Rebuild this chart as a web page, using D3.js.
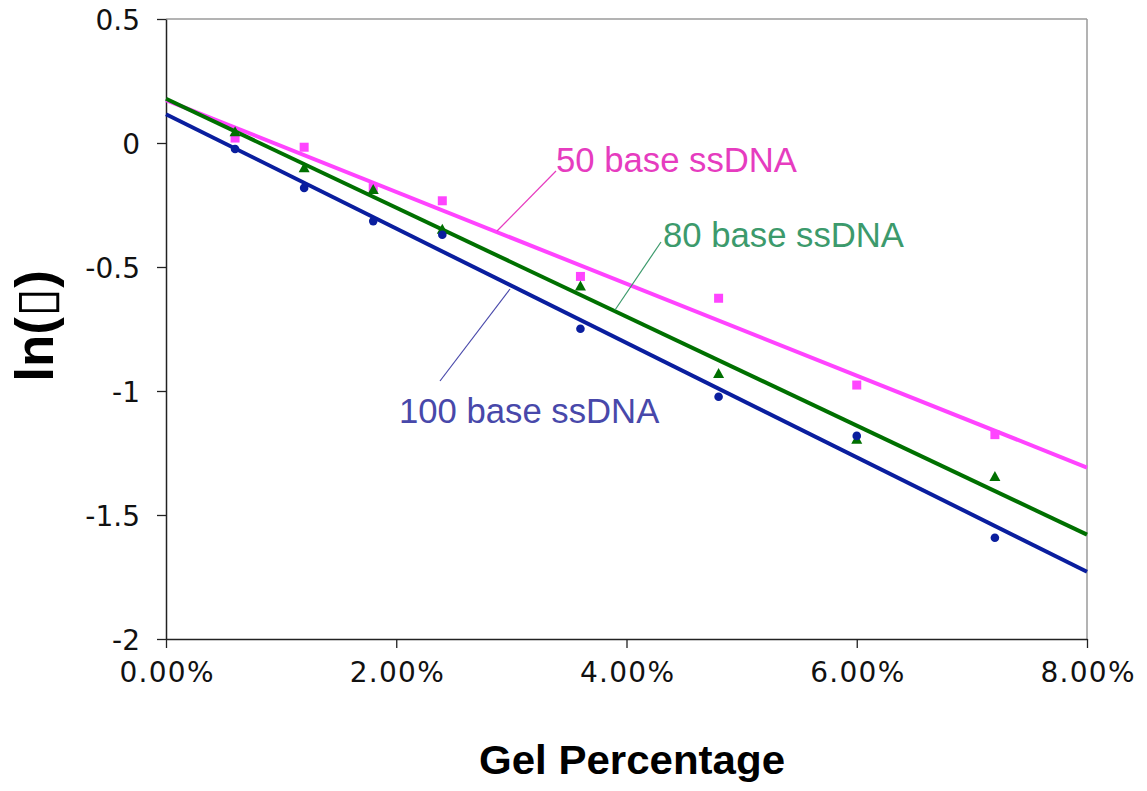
<!DOCTYPE html>
<html>
<head>
<meta charset="utf-8">
<script src="https://cdn.jsdelivr.net/npm/d3@7"></script>
<style>
  html, body { margin: 0; padding: 0; background: #fff; }
  svg { display: block; }
</style>
</head>
<body>
<svg id="chart" width="1147" height="791"></svg>
<script>
// ---- data ----
const gelPct = [0.006, 0.012, 0.018, 0.024, 0.036, 0.048, 0.060, 0.072];
const base50 = [0.02, -0.017, -0.18, -0.233, -0.538, -0.626, -0.976, -1.176];
const base80 = [0.045, -0.10, -0.187, -0.348, -0.577, -0.929, -1.195, -1.345];
const base100 = [-0.024, -0.181, -0.315, -0.37, -0.749, -1.023, -1.181, -1.592];
const xTicks = [0, 0.02, 0.04, 0.06, 0.08];
const yTicks = [0.5, 0, -0.5, -1, -1.5, -2];
const seriesNames = ["50 base ssDNA", "80 base ssDNA", "100 base ssDNA"];
const xTitle = "Gel Percentage";
const yTitle = "ln(\u25AF)";

// ---- layout ----
const svg = d3.select("#chart");
const L = 166, R = 1087, T = 19, B = 639;
const x = d3.scaleLinear().domain([0, 0.08]).range([L, R]);
const y = d3.scaleLinear().domain([-2, 0.5]).range([B, T]);

const series = [
  { name: seriesNames[0], vals: base50, color: "#ff44ff", text: "#e63cbf", shape: "square",
    label: { x: 556, y: 172 }, leader: [[556, 171], [497, 231]] },
  { name: seriesNames[1], vals: base80, color: "#007000", text: "#3c9a6c", shape: "triangle",
    label: { x: 663, y: 247 }, leader: [[661, 242], [615, 310]] },
  { name: seriesNames[2], vals: base100, color: "#0a1e9e", text: "#4848aa", shape: "circle",
    label: { x: 399, y: 423 }, leader: [[440, 381], [510, 289]] }
];

function fit(xs, ys) {
  const mx = d3.mean(xs), my = d3.mean(ys);
  let sxy = 0, sxx = 0;
  xs.forEach((v, i) => { sxy += (v - mx) * (ys[i] - my); sxx += (v - mx) * (v - mx); });
  const slope = sxy / sxx;
  return { slope, intercept: my - slope * mx };
}

// plot frame: top/right grey
svg.append("line").attr("x1", L).attr("x2", R).attr("y1", T).attr("y2", T)
  .attr("stroke", "#9a9a9a").attr("stroke-width", 1.5);
svg.append("line").attr("x1", R).attr("x2", R).attr("y1", T).attr("y2", B)
  .attr("stroke", "#9a9a9a").attr("stroke-width", 1.5);

// axes
const xAxis = d3.axisBottom(x).tickValues(xTicks).tickFormat(d3.format(".2%")).tickSizeInner(9).tickSizeOuter(0).tickPadding(14);
const yAxis = d3.axisLeft(y).tickValues(yTicks).tickFormat(d => d3.format("")(d).replace("\u2212", "-")).tickSizeInner(9).tickSizeOuter(0).tickPadding(17);

const gx = svg.append("g").attr("transform", `translate(0,${B})`).call(xAxis);
const gy = svg.append("g").attr("transform", `translate(${L},0)`).call(yAxis);
[gx, gy].forEach(g => {
  g.select(".domain").attr("stroke", "#222").attr("stroke-width", 1.5);
  g.selectAll(".tick line").attr("stroke", "#222").attr("stroke-width", 1.3);
  g.selectAll(".tick text").attr("fill", "#111")
    .style("font-family", "'DejaVu Sans', Verdana, sans-serif").style("font-size", "28px");
});
gx.selectAll(".tick text").attr("dy", "0.71em")
  .attr("textLength", 94).attr("lengthAdjust", "spacing");
gy.selectAll(".tick text").attr("dy", "0.36em");

// trend lines
series.forEach(s => {
  const f = fit(gelPct, s.vals);
  const dom = x.domain();
  svg.append("line")
    .attr("x1", x(dom[0])).attr("y1", y(f.intercept + f.slope * dom[0]))
    .attr("x2", x(dom[1])).attr("y2", y(f.intercept + f.slope * dom[1]))
    .attr("stroke", s.color).attr("stroke-width", 4);
});

// markers
series.forEach(s => {
  const g = svg.append("g").attr("fill", s.color);
  gelPct.forEach((gp, i) => {
    const cx = x(gp), cy = y(s.vals[i]);
    if (s.shape === "square") {
      g.append("rect").attr("x", cx - 4.5).attr("y", cy - 4.5).attr("width", 9).attr("height", 9);
    } else if (s.shape === "triangle") {
      g.append("path").attr("d", `M${cx},${cy - 5.5}L${cx + 5.5},${cy + 4.5}L${cx - 5.5},${cy + 4.5}Z`);
    } else {
      g.append("circle").attr("cx", cx).attr("cy", cy).attr("r", 4.3);
    }
  });
});

// labels with leader lines
series.forEach(s => {
  svg.append("line")
    .attr("x1", s.leader[0][0]).attr("y1", s.leader[0][1])
    .attr("x2", s.leader[1][0]).attr("y2", s.leader[1][1])
    .attr("stroke", s.text).attr("stroke-width", 1.2);
  svg.append("text").attr("x", s.label.x).attr("y", s.label.y)
    .attr("fill", s.text)
    .style("font-family", "'Liberation Sans', Arial, sans-serif").style("font-size", "34.7px")
    .text(s.name);
});

// axis titles
svg.append("text").attr("x", 632).attr("y", 774).attr("text-anchor", "middle")
  .attr("fill", "#000").style("font-family", "'Liberation Sans', Arial, sans-serif")
  .style("font-weight", "bold").style("font-size", "40px")
  .attr("textLength", 306).attr("lengthAdjust", "spacingAndGlyphs")
  .text(xTitle);

svg.append("text").attr("transform", "translate(53,326) rotate(-90)").attr("text-anchor", "middle")
  .attr("fill", "#000").style("font-family", "'Liberation Sans', Arial, 'DejaVu Sans', sans-serif")
  .style("font-weight", "bold").style("font-size", "53px")
  .text(yTitle);
</script>
</body>
</html>
